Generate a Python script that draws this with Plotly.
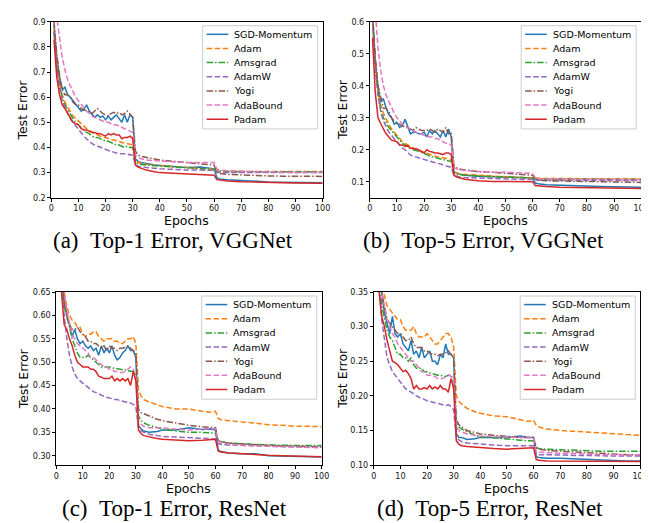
import plotly.graph_objects as go

W, H = 649, 523

EPOCHS = list(range(1, 31)) + [31, 32, 33, 35, 38, 40, 45, 50, 55, 58, 60, 61, 62,
                               65, 70, 75, 80, 85, 90, 95, 100]

METHODS = ["SGD-Momentum", "Adam", "Amsgrad", "AdamW", "Yogi", "AdaBound", "Padam"]
COLORS = ["#1f77b4", "#ff7f0e", "#2ca02c", "#9467bd", "#8c564b", "#e377c2", "#d62728"]
DASHES = ["solid", "5.5px,2.5px", "6.5px,2px,1.5px,2px", "5.5px,2.5px",
          "6.5px,2px,1.5px,2px", "5.5px,2.5px", "solid"]

# ---------------- (a) Top-1 Error, VGGNet ----------------
SGD_A = [0.89, 0.76, 0.68, 0.63, 0.64, 0.61, 0.60, 0.585, 0.57, 0.56, 0.545, 0.55, 0.57, 0.545, 0.53,
         0.52, 0.53, 0.52, 0.525, 0.51, 0.525, 0.51, 0.52, 0.53, 0.515, 0.50, 0.53, 0.50, 0.53, 0.52,
         0.355, 0.345, 0.34, 0.335, 0.33, 0.328, 0.325, 0.32, 0.322, 0.318, 0.315, 0.28, 0.275,
         0.272, 0.268, 0.265, 0.263, 0.262, 0.261, 0.26, 0.26]
ADAM_A = [0.87, 0.74, 0.66, 0.61, 0.58, 0.56, 0.54, 0.525, 0.515, 0.505, 0.495, 0.485, 0.475, 0.47, 0.46,
          0.455, 0.45, 0.445, 0.44, 0.44, 0.435, 0.432, 0.43, 0.428, 0.425, 0.42, 0.418, 0.415, 0.413, 0.41,
          0.345, 0.34, 0.337, 0.333, 0.33, 0.327, 0.323, 0.32, 0.317, 0.315, 0.313, 0.306, 0.305,
          0.305, 0.305, 0.304, 0.304, 0.304, 0.304, 0.304, 0.304]
AMS_A = [0.86, 0.73, 0.65, 0.60, 0.57, 0.55, 0.53, 0.515, 0.50, 0.49, 0.48, 0.47, 0.46, 0.455, 0.445,
         0.44, 0.44, 0.435, 0.43, 0.425, 0.425, 0.42, 0.415, 0.41, 0.41, 0.405, 0.40, 0.405, 0.40, 0.40,
         0.34, 0.335, 0.332, 0.33, 0.327, 0.325, 0.322, 0.32, 0.316, 0.314, 0.312, 0.306, 0.305,
         0.304, 0.303, 0.303, 0.303, 0.303, 0.303, 0.303, 0.303]
ADAMW_A = [0.86, 0.72, 0.64, 0.59, 0.56, 0.535, 0.515, 0.50, 0.485, 0.47, 0.455, 0.445, 0.435, 0.425, 0.415,
           0.41, 0.405, 0.40, 0.395, 0.39, 0.388, 0.385, 0.38, 0.378, 0.375, 0.375, 0.372, 0.375, 0.37, 0.37,
           0.33, 0.325, 0.322, 0.32, 0.317, 0.315, 0.313, 0.31, 0.31, 0.309, 0.308, 0.302, 0.301,
           0.30, 0.30, 0.30, 0.30, 0.30, 0.30, 0.30, 0.30]
YOGI_A = [0.90, 0.77, 0.69, 0.63, 0.61, 0.61, 0.60, 0.58, 0.57, 0.57, 0.555, 0.55, 0.545, 0.54, 0.535,
          0.545, 0.555, 0.545, 0.535, 0.53, 0.525, 0.535, 0.54, 0.535, 0.54, 0.53, 0.535, 0.545, 0.53, 0.52,
          0.385, 0.37, 0.365, 0.36, 0.352, 0.35, 0.345, 0.34, 0.335, 0.332, 0.33, 0.30, 0.297,
          0.293, 0.29, 0.288, 0.287, 0.286, 0.285, 0.285, 0.285]
ADAB_A = [1.0, 0.92, 0.82, 0.76, 0.71, 0.67, 0.645, 0.62, 0.60, 0.585, 0.57, 0.555, 0.545, 0.535, 0.525,
          0.52, 0.515, 0.51, 0.505, 0.50, 0.50, 0.495, 0.49, 0.49, 0.485, 0.48, 0.475, 0.47, 0.465, 0.46,
          0.37, 0.36, 0.355, 0.35, 0.347, 0.345, 0.343, 0.34, 0.34, 0.34, 0.34, 0.315, 0.31,
          0.307, 0.305, 0.303, 0.302, 0.301, 0.30, 0.30, 0.30]
PADAM_A = [0.83, 0.68, 0.61, 0.57, 0.555, 0.535, 0.515, 0.50, 0.495, 0.49, 0.475, 0.47, 0.47, 0.465, 0.46,
           0.46, 0.455, 0.455, 0.45, 0.445, 0.455, 0.45, 0.455, 0.45, 0.45, 0.435, 0.44, 0.44, 0.445, 0.435,
           0.33, 0.322, 0.318, 0.31, 0.303, 0.30, 0.297, 0.295, 0.293, 0.292, 0.29, 0.272, 0.27,
           0.267, 0.264, 0.262, 0.26, 0.26, 0.259, 0.259, 0.258]

# ---------------- (b) Top-5 Error, VGGNet ----------------
SGD_B = [0.62, 0.48, 0.40, 0.35, 0.36, 0.33, 0.31, 0.30, 0.28, 0.285, 0.27, 0.275, 0.295, 0.27, 0.25,
         0.255, 0.255, 0.25, 0.25, 0.255, 0.24, 0.26, 0.25, 0.26, 0.25, 0.24, 0.26, 0.24, 0.265, 0.24,
         0.13, 0.126, 0.124, 0.12, 0.118, 0.117, 0.116, 0.115, 0.114, 0.113, 0.112, 0.096, 0.094,
         0.091, 0.089, 0.087, 0.086, 0.085, 0.084, 0.084, 0.083]
ADAM_B = [0.62, 0.47, 0.39, 0.34, 0.315, 0.295, 0.28, 0.265, 0.255, 0.245, 0.235, 0.225, 0.22, 0.215, 0.21,
          0.205, 0.20, 0.198, 0.195, 0.19, 0.188, 0.185, 0.182, 0.18, 0.178, 0.175, 0.175, 0.173, 0.17, 0.17,
          0.13, 0.127, 0.125, 0.123, 0.121, 0.12, 0.118, 0.116, 0.114, 0.113, 0.112, 0.11, 0.11,
          0.11, 0.11, 0.11, 0.109, 0.109, 0.109, 0.109, 0.109]
AMS_B = [0.61, 0.46, 0.38, 0.33, 0.30, 0.285, 0.27, 0.26, 0.25, 0.24, 0.23, 0.22, 0.215, 0.21, 0.205,
         0.20, 0.198, 0.195, 0.19, 0.188, 0.185, 0.18, 0.178, 0.175, 0.172, 0.17, 0.168, 0.168, 0.165, 0.165,
         0.125, 0.123, 0.122, 0.12, 0.119, 0.118, 0.117, 0.115, 0.114, 0.113, 0.112, 0.109, 0.108,
         0.108, 0.108, 0.107, 0.107, 0.107, 0.107, 0.107, 0.107]
ADAMW_B = [0.61, 0.46, 0.37, 0.32, 0.29, 0.27, 0.255, 0.245, 0.235, 0.225, 0.215, 0.205, 0.20, 0.19, 0.183,
           0.18, 0.178, 0.175, 0.172, 0.17, 0.167, 0.165, 0.162, 0.16, 0.157, 0.155, 0.153, 0.15, 0.148, 0.145,
           0.12, 0.117, 0.115, 0.113, 0.112, 0.111, 0.11, 0.109, 0.108, 0.107, 0.107, 0.105, 0.105,
           0.105, 0.104, 0.104, 0.104, 0.104, 0.104, 0.104, 0.104]
YOGI_B = [0.63, 0.49, 0.40, 0.36, 0.33, 0.33, 0.32, 0.30, 0.29, 0.285, 0.28, 0.275, 0.27, 0.27, 0.265,
          0.26, 0.27, 0.265, 0.26, 0.26, 0.26, 0.265, 0.26, 0.255, 0.265, 0.26, 0.255, 0.27, 0.25, 0.255,
          0.15, 0.143, 0.14, 0.137, 0.134, 0.132, 0.13, 0.127, 0.125, 0.122, 0.12, 0.107, 0.105,
          0.103, 0.102, 0.101, 0.10, 0.10, 0.099, 0.099, 0.098]
ADAB_B = [0.75, 0.62, 0.52, 0.45, 0.40, 0.37, 0.35, 0.33, 0.315, 0.30, 0.29, 0.28, 0.275, 0.27, 0.265,
          0.26, 0.255, 0.25, 0.25, 0.245, 0.245, 0.24, 0.24, 0.235, 0.235, 0.23, 0.225, 0.22, 0.22, 0.215,
          0.145, 0.14, 0.138, 0.135, 0.133, 0.132, 0.13, 0.13, 0.128, 0.127, 0.126, 0.112, 0.11,
          0.109, 0.108, 0.108, 0.108, 0.108, 0.108, 0.107, 0.107]
PADAM_B = [0.55, 0.38, 0.30, 0.28, 0.265, 0.25, 0.24, 0.23, 0.228, 0.225, 0.215, 0.215, 0.21, 0.212, 0.205,
           0.205, 0.203, 0.20, 0.195, 0.19, 0.20, 0.195, 0.193, 0.19, 0.19, 0.188, 0.185, 0.19, 0.19, 0.185,
           0.12, 0.115, 0.112, 0.108, 0.105, 0.103, 0.101, 0.10, 0.10, 0.10, 0.10, 0.088, 0.087,
           0.085, 0.083, 0.082, 0.081, 0.08, 0.08, 0.079, 0.079]

# ---------------- (c) Top-1 Error, ResNet ----------------
SGD_C = [0.80, 0.69, 0.63, 0.60, 0.58, 0.555, 0.57, 0.55, 0.54, 0.545, 0.535, 0.53, 0.535, 0.525, 0.53,
         0.515, 0.535, 0.52, 0.53, 0.52, 0.535, 0.515, 0.505, 0.51, 0.52, 0.525, 0.535, 0.525, 0.525, 0.51,
         0.365, 0.357, 0.353, 0.35, 0.352, 0.355, 0.355, 0.36, 0.356, 0.357, 0.355, 0.312, 0.309,
         0.306, 0.304, 0.304, 0.30, 0.299, 0.298, 0.297, 0.297]
ADAM_C = [0.82, 0.70, 0.65, 0.62, 0.60, 0.59, 0.585, 0.575, 0.575, 0.56, 0.555, 0.56, 0.56, 0.565, 0.565,
          0.555, 0.55, 0.545, 0.55, 0.55, 0.55, 0.545, 0.545, 0.54, 0.54, 0.545, 0.55, 0.55, 0.555, 0.54,
          0.44, 0.428, 0.42, 0.415, 0.41, 0.405, 0.40, 0.40, 0.395, 0.393, 0.395, 0.38, 0.377,
          0.375, 0.372, 0.37, 0.366, 0.365, 0.363, 0.363, 0.362]
AMS_C = [0.80, 0.68, 0.62, 0.60, 0.575, 0.55, 0.535, 0.52, 0.51, 0.51, 0.51, 0.515, 0.51, 0.505, 0.50,
         0.495, 0.49, 0.49, 0.49, 0.49, 0.488, 0.487, 0.486, 0.485, 0.484, 0.483, 0.482, 0.48, 0.48, 0.475,
         0.385, 0.375, 0.37, 0.365, 0.36, 0.357, 0.353, 0.35, 0.35, 0.349, 0.348, 0.333, 0.33,
         0.327, 0.325, 0.324, 0.323, 0.322, 0.322, 0.322, 0.322]
ADAMW_C = [0.78, 0.66, 0.60, 0.55, 0.515, 0.49, 0.475, 0.465, 0.46, 0.455, 0.45, 0.445, 0.44, 0.437, 0.435,
           0.432, 0.43, 0.427, 0.425, 0.424, 0.422, 0.42, 0.42, 0.418, 0.417, 0.415, 0.414, 0.413, 0.41, 0.405,
           0.36, 0.353, 0.35, 0.346, 0.343, 0.341, 0.34, 0.339, 0.338, 0.337, 0.336, 0.326, 0.324,
           0.323, 0.322, 0.321, 0.32, 0.319, 0.319, 0.318, 0.318]
YOGI_C = [0.81, 0.69, 0.63, 0.60, 0.58, 0.57, 0.57, 0.575, 0.565, 0.56, 0.555, 0.545, 0.545, 0.54, 0.54,
          0.535, 0.53, 0.535, 0.525, 0.535, 0.53, 0.53, 0.525, 0.53, 0.53, 0.532, 0.535, 0.53, 0.525, 0.52,
          0.40, 0.392, 0.39, 0.385, 0.378, 0.375, 0.37, 0.365, 0.362, 0.36, 0.36, 0.332, 0.33,
          0.327, 0.325, 0.323, 0.322, 0.321, 0.32, 0.32, 0.319]
ADAB_C = [0.83, 0.71, 0.65, 0.61, 0.585, 0.56, 0.55, 0.54, 0.535, 0.53, 0.525, 0.52, 0.51, 0.51, 0.505,
          0.50, 0.495, 0.49, 0.49, 0.485, 0.485, 0.48, 0.48, 0.478, 0.478, 0.48, 0.485, 0.49, 0.485, 0.47,
          0.375, 0.367, 0.363, 0.36, 0.36, 0.36, 0.357, 0.355, 0.357, 0.358, 0.358, 0.332, 0.328,
          0.325, 0.322, 0.321, 0.32, 0.319, 0.318, 0.318, 0.317]
PADAM_C = [0.78, 0.65, 0.58, 0.57, 0.55, 0.535, 0.515, 0.50, 0.495, 0.49, 0.49, 0.49, 0.485, 0.485, 0.48,
           0.47, 0.468, 0.465, 0.465, 0.465, 0.47, 0.46, 0.465, 0.46, 0.465, 0.46, 0.465, 0.45, 0.48, 0.46,
           0.355, 0.347, 0.343, 0.34, 0.337, 0.335, 0.333, 0.332, 0.333, 0.334, 0.335, 0.31, 0.308,
           0.306, 0.304, 0.303, 0.301, 0.30, 0.299, 0.298, 0.298]

# ---------------- (d) Top-5 Error, ResNet ----------------
SGD_D = [0.50, 0.40, 0.35, 0.32, 0.305, 0.29, 0.315, 0.29, 0.285, 0.29, 0.275, 0.27, 0.265, 0.28, 0.26,
         0.265, 0.255, 0.27, 0.255, 0.26, 0.265, 0.25, 0.25, 0.245, 0.26, 0.255, 0.275, 0.26, 0.26, 0.255,
         0.145, 0.14, 0.14, 0.137, 0.138, 0.14, 0.14, 0.14, 0.142, 0.14, 0.14, 0.112, 0.111,
         0.11, 0.11, 0.109, 0.108, 0.107, 0.106, 0.106, 0.106]
ADAM_D = [0.52, 0.41, 0.36, 0.345, 0.33, 0.325, 0.32, 0.315, 0.31, 0.31, 0.30, 0.295, 0.295, 0.295, 0.30,
          0.29, 0.285, 0.285, 0.285, 0.29, 0.285, 0.28, 0.275, 0.275, 0.28, 0.285, 0.29, 0.29, 0.285, 0.27,
          0.20, 0.192, 0.188, 0.182, 0.177, 0.175, 0.171, 0.17, 0.166, 0.163, 0.165, 0.157, 0.155,
          0.152, 0.15, 0.149, 0.148, 0.146, 0.145, 0.144, 0.143]
AMS_D = [0.48, 0.38, 0.33, 0.31, 0.295, 0.285, 0.28, 0.27, 0.26, 0.26, 0.255, 0.255, 0.25, 0.255, 0.245,
         0.24, 0.24, 0.24, 0.235, 0.235, 0.233, 0.232, 0.23, 0.23, 0.23, 0.228, 0.228, 0.23, 0.23, 0.22,
         0.16, 0.155, 0.152, 0.148, 0.143, 0.141, 0.139, 0.137, 0.136, 0.135, 0.135, 0.125, 0.124,
         0.123, 0.122, 0.121, 0.12, 0.12, 0.12, 0.12, 0.12]
ADAMW_D = [0.45, 0.36, 0.31, 0.28, 0.255, 0.245, 0.235, 0.23, 0.225, 0.22, 0.215, 0.21, 0.208, 0.205, 0.203,
           0.20, 0.198, 0.197, 0.195, 0.193, 0.192, 0.19, 0.19, 0.189, 0.188, 0.187, 0.186, 0.187, 0.185, 0.18,
           0.14, 0.136, 0.134, 0.132, 0.131, 0.13, 0.129, 0.128, 0.128, 0.128, 0.128, 0.116, 0.115,
           0.115, 0.114, 0.114, 0.114, 0.113, 0.113, 0.113, 0.113]
YOGI_D = [0.50, 0.40, 0.35, 0.33, 0.31, 0.305, 0.30, 0.295, 0.29, 0.29, 0.285, 0.28, 0.28, 0.285, 0.275,
          0.27, 0.27, 0.27, 0.265, 0.265, 0.262, 0.26, 0.26, 0.258, 0.26, 0.26, 0.262, 0.265, 0.26, 0.255,
          0.165, 0.158, 0.155, 0.15, 0.147, 0.145, 0.143, 0.141, 0.14, 0.14, 0.14, 0.125, 0.123,
          0.121, 0.12, 0.118, 0.117, 0.116, 0.115, 0.115, 0.115]
ADAB_D = [0.52, 0.41, 0.35, 0.33, 0.31, 0.30, 0.29, 0.285, 0.275, 0.27, 0.265, 0.26, 0.255, 0.25, 0.25,
          0.245, 0.24, 0.235, 0.235, 0.23, 0.23, 0.228, 0.228, 0.225, 0.225, 0.225, 0.228, 0.23, 0.228, 0.225,
          0.155, 0.15, 0.148, 0.145, 0.143, 0.142, 0.141, 0.14, 0.14, 0.14, 0.14, 0.12, 0.119,
          0.118, 0.117, 0.116, 0.116, 0.115, 0.115, 0.115, 0.115]
PADAM_D = [0.45, 0.35, 0.315, 0.30, 0.28, 0.265, 0.25, 0.248, 0.245, 0.24, 0.235, 0.237, 0.232, 0.225, 0.21,
           0.215, 0.21, 0.21, 0.212, 0.21, 0.215, 0.21, 0.213, 0.21, 0.215, 0.21, 0.21, 0.205, 0.225, 0.21,
           0.135, 0.13, 0.128, 0.127, 0.126, 0.125, 0.124, 0.123, 0.124, 0.125, 0.125, 0.108, 0.107,
           0.106, 0.106, 0.105, 0.105, 0.105, 0.105, 0.105, 0.105]

CAPTIONS = ["(a)\u2002Top-1 Error, VGGNet", "(b)\u2002Top-5 Error, VGGNet",
            "(c)\u2002Top-1 Error, ResNet", "(d)\u2002Top-5 Error, ResNet"]
Y_RANGES = [[0.2, 0.9], [0.05, 0.6], [0.28, 0.65], [0.10, 0.35]]
Y_TICKS = [[0.2, 0.3, 0.4, 0.5, 0.6, 0.7, 0.8, 0.9],
           [0.1, 0.2, 0.3, 0.4, 0.5, 0.6],
           [0.30, 0.35, 0.40, 0.45, 0.50, 0.55, 0.60, 0.65],
           [0.10, 0.15, 0.20, 0.25, 0.30, 0.35]]
Y_FORMATS = [".1f", ".1f", ".2f", ".2f"]
X_TICKS = list(range(0, 101, 10))

PANEL_DATA = [
    [SGD_A, ADAM_A, AMS_A, ADAMW_A, YOGI_A, ADAB_A, PADAM_A],
    [SGD_B, ADAM_B, AMS_B, ADAMW_B, YOGI_B, ADAB_B, PADAM_B],
    [SGD_C, ADAM_C, AMS_C, ADAMW_C, YOGI_C, ADAB_C, PADAM_C],
    [SGD_D, ADAM_D, AMS_D, ADAMW_D, YOGI_D, ADAB_D, PADAM_D],
]

# layout (pixel boxes of the plotting areas: left, right, top, bottom)
BOXES = [(41, 317, 10, 189), (365, 641, 10, 189), (46, 316, 285, 461), (369, 640, 285, 461)]
YLABEL_X = [12, 337, 13, 337]
XLABEL_Y = [212, 212, 485, 485]
CAPTION_POS = [(165, 233), (481, 233), (166, 505), (487, 505)]


def px(x):
    return x / W


def py(y):
    return 1 - y / H


fig = go.Figure()
annotations = []
shapes = []

for k, series in enumerate(PANEL_DATA):
    L, R, T, B = BOXES[k]
    xa = "xaxis" if k == 0 else f"xaxis{k + 1}"
    ya = "yaxis" if k == 0 else f"yaxis{k + 1}"
    xref = "x" if k == 0 else f"x{k + 1}"
    yref = "y" if k == 0 else f"y{k + 1}"
    for name, vals, color, dash in zip(METHODS, series, COLORS, DASHES):
        fig.add_trace(go.Scatter(x=EPOCHS, y=vals, mode="lines", name=name,
                                 line=dict(color=color, width=1.5, dash=dash),
                                 xaxis=xref, yaxis=yref, showlegend=False))
    axis_common = dict(showline=True, mirror=True, linecolor="black", linewidth=1,
                       ticks="outside", ticklen=3, tickwidth=0.8, tickcolor="black",
                       showgrid=False, zeroline=False,
                       tickfont=dict(family="DejaVu Sans", size=8, color="#111"))
    fig.update_layout({
        xa: dict(domain=[px(L), px(R)], range=[0, 100], tickvals=X_TICKS,
                 anchor=yref, **axis_common),
        ya: dict(domain=[py(B), py(T)], range=Y_RANGES[k], tickvals=Y_TICKS[k],
                 tickformat=Y_FORMATS[k], anchor=xref, **axis_common),
    })
    # axis titles
    annotations.append(dict(text="Epochs", x=px((L + R) / 2), y=py(XLABEL_Y[k]),
                            xref="paper", yref="paper", showarrow=False,
                            xanchor="center", yanchor="middle", borderpad=0,
                            font=dict(family="DejaVu Sans", size=12.5, color="black")))
    annotations.append(dict(text="Test Error", x=px(YLABEL_X[k]), y=py((T + B) / 2),
                            xref="paper", yref="paper", showarrow=False, textangle=-90,
                            xanchor="center", yanchor="middle", borderpad=0,
                            font=dict(family="DejaVu Sans", size=12.5, color="black")))
    cx, cy = CAPTION_POS[k]
    annotations.append(dict(text=CAPTIONS[k], x=px(cx), y=py(cy), xref="paper", yref="paper",
                            showarrow=False, xanchor="center", yanchor="middle", borderpad=0,
                            font=dict(family="Liberation Serif", size=23, color="black")))
    # legend box (matplotlib style)
    bx0, bx1, by0, by1 = R - 122, R - 5, T + 4, T + 109
    shapes.append(dict(type="rect", xref="paper", yref="paper",
                       x0=px(bx0), x1=px(bx1), y0=py(by1), y1=py(by0),
                       line=dict(color="#cccccc", width=1), fillcolor="rgba(255,255,255,0.85)",
                       layer="above"))
    for i, (name, color, dash) in enumerate(zip(METHODS, COLORS, DASHES)):
        yy = by0 + 8.7 + 14.4 * i
        shapes.append(dict(type="line", xref="paper", yref="paper",
                           x0=px(bx0 + 4), x1=px(bx0 + 26), y0=py(yy), y1=py(yy),
                           line=dict(color=color, width=1.5, dash=dash), layer="above"))
        annotations.append(dict(text=name, x=px(bx0 + 31), y=py(yy), xref="paper", yref="paper",
                                showarrow=False, xanchor="left", yanchor="middle", borderpad=0,
                                font=dict(family="DejaVu Sans", size=9.5, color="black")))

fig.update_layout(width=W, height=H, margin=dict(l=0, r=0, t=0, b=0),
                  paper_bgcolor="white", plot_bgcolor="white",
                  annotations=annotations, shapes=shapes, showlegend=False)

fig.write_html("out.html")
